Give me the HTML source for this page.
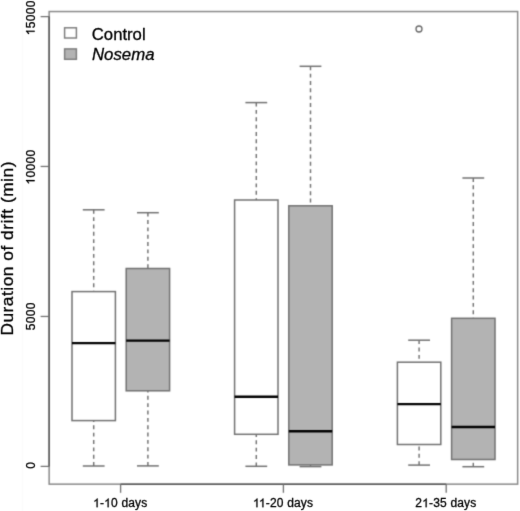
<!DOCTYPE html>
<html><head><meta charset="utf-8"><style>
html,body{margin:0;padding:0;background:#fff;width:520px;height:511px;overflow:hidden}
svg{display:block;will-change:transform}
text{font-family:"Liberation Sans",sans-serif;stroke:#000;stroke-width:0.3px}
.h{fill-opacity:0;stroke-opacity:0}
</style></head><body>
<svg width="520" height="511" viewBox="0 0 520 511">
<defs>
<filter id="soft" x="0" y="0" width="520" height="511" filterUnits="userSpaceOnUse" color-interpolation-filters="sRGB"><feConvolveMatrix order="3" kernelMatrix="0.02250 0.10500 0.02250 0.10500 0.49000 0.10500 0.02250 0.10500 0.02250" divisor="1" edgeMode="duplicate"/></filter>
<filter id="softt" x="0" y="0" width="520" height="511" filterUnits="userSpaceOnUse" color-interpolation-filters="sRGB"><feConvolveMatrix order="3" kernelMatrix="0.00640 0.06720 0.00640 0.06720 0.70560 0.06720 0.00640 0.06720 0.00640" divisor="1" edgeMode="duplicate"/></filter>
</defs>
<rect x="0" y="0" width="520" height="511" fill="#fff"/>
<g filter="url(#soft)">
<rect x="0" y="0" width="520" height="511" fill="#fff"/>
<line x1="22.5" y1="0" x2="22.5" y2="511" stroke="#fbfbfb" stroke-width="1"/>
<rect x="49.15" y="11.55" width="468.5" height="472.6" fill="none" stroke="#8a8a8a" stroke-width="1.5"/>
<line x1="49.15" y1="16.5" x2="49.15" y2="466.4" stroke="#585858" stroke-width="1.5"/>
<g stroke="#707070" stroke-width="1.25">
<line x1="40.6" y1="466.4" x2="49.2" y2="466.4"/>
<line x1="40.6" y1="316.45" x2="49.2" y2="316.45"/>
<line x1="40.6" y1="166.45" x2="49.2" y2="166.45"/>
<line x1="40.6" y1="16.6" x2="49.2" y2="16.6"/>
</g>
<line x1="120.6" y1="484.15" x2="446.2" y2="484.15" stroke="#585858" stroke-width="1.5"/>
<g stroke="#707070" stroke-width="1.3">
<line x1="120.6" y1="484.2" x2="120.6" y2="492.8"/>
<line x1="283.4" y1="484.2" x2="283.4" y2="492.8"/>
<line x1="446.2" y1="484.2" x2="446.2" y2="492.8"/>
</g>
<line x1="93.7" y1="209.8" x2="93.7" y2="291.6" stroke="#727272" stroke-width="1.45" stroke-dasharray="3.9 3.45"/>
<line x1="93.7" y1="466.0" x2="93.7" y2="420.6" stroke="#727272" stroke-width="1.45" stroke-dasharray="3.9 3.45"/>
<line x1="82.80" y1="209.8" x2="104.60" y2="209.8" stroke="#727272" stroke-width="1.5"/>
<line x1="82.80" y1="466.0" x2="104.60" y2="466.0" stroke="#727272" stroke-width="1.5"/>
<rect x="72.00" y="291.6" width="43.40" height="129.00" fill="#ffffff" stroke="#727272" stroke-width="1.5"/>
<line x1="72.00" y1="343.1" x2="115.40" y2="343.1" stroke="#000" stroke-width="2.4"/>
<line x1="147.9" y1="212.7" x2="147.9" y2="268.5" stroke="#727272" stroke-width="1.45" stroke-dasharray="3.9 3.45"/>
<line x1="147.9" y1="465.9" x2="147.9" y2="390.8" stroke="#727272" stroke-width="1.45" stroke-dasharray="3.9 3.45"/>
<line x1="137.00" y1="212.7" x2="158.80" y2="212.7" stroke="#727272" stroke-width="1.5"/>
<line x1="137.00" y1="465.9" x2="158.80" y2="465.9" stroke="#727272" stroke-width="1.5"/>
<rect x="126.20" y="268.5" width="43.40" height="122.30" fill="#b3b3b3" stroke="#727272" stroke-width="1.5"/>
<line x1="126.20" y1="340.6" x2="169.60" y2="340.6" stroke="#000" stroke-width="2.4"/>
<line x1="256.3" y1="102.6" x2="256.3" y2="200.0" stroke="#727272" stroke-width="1.45" stroke-dasharray="3.9 3.45"/>
<line x1="256.3" y1="466.3" x2="256.3" y2="434.3" stroke="#727272" stroke-width="1.45" stroke-dasharray="3.9 3.45"/>
<line x1="245.40" y1="102.6" x2="267.20" y2="102.6" stroke="#727272" stroke-width="1.5"/>
<line x1="245.40" y1="466.3" x2="267.20" y2="466.3" stroke="#727272" stroke-width="1.5"/>
<rect x="234.60" y="200.0" width="43.40" height="234.30" fill="#ffffff" stroke="#727272" stroke-width="1.5"/>
<line x1="234.60" y1="396.7" x2="278.00" y2="396.7" stroke="#000" stroke-width="2.4"/>
<line x1="310.5" y1="66.3" x2="310.5" y2="205.8" stroke="#727272" stroke-width="1.45" stroke-dasharray="3.9 3.45"/>
<line x1="310.5" y1="466.6" x2="310.5" y2="464.9" stroke="#727272" stroke-width="1.45" stroke-dasharray="3.9 3.45"/>
<line x1="299.60" y1="66.3" x2="321.40" y2="66.3" stroke="#727272" stroke-width="1.5"/>
<line x1="299.60" y1="466.6" x2="321.40" y2="466.6" stroke="#727272" stroke-width="1.5"/>
<rect x="288.80" y="205.8" width="43.40" height="259.10" fill="#b3b3b3" stroke="#727272" stroke-width="1.5"/>
<line x1="288.80" y1="431.2" x2="332.20" y2="431.2" stroke="#000" stroke-width="2.4"/>
<line x1="419.1" y1="340.2" x2="419.1" y2="362.2" stroke="#727272" stroke-width="1.45" stroke-dasharray="3.9 3.45"/>
<line x1="419.1" y1="465.1" x2="419.1" y2="444.5" stroke="#727272" stroke-width="1.45" stroke-dasharray="3.9 3.45"/>
<line x1="408.20" y1="340.2" x2="430.00" y2="340.2" stroke="#727272" stroke-width="1.5"/>
<line x1="408.20" y1="465.1" x2="430.00" y2="465.1" stroke="#727272" stroke-width="1.5"/>
<rect x="397.40" y="362.2" width="43.40" height="82.30" fill="#ffffff" stroke="#727272" stroke-width="1.5"/>
<line x1="397.40" y1="404.1" x2="440.80" y2="404.1" stroke="#000" stroke-width="2.4"/>
<line x1="473.3" y1="178.0" x2="473.3" y2="318.3" stroke="#727272" stroke-width="1.45" stroke-dasharray="3.9 3.45"/>
<line x1="473.3" y1="466.7" x2="473.3" y2="459.5" stroke="#727272" stroke-width="1.45" stroke-dasharray="3.9 3.45"/>
<line x1="462.40" y1="178.0" x2="484.20" y2="178.0" stroke="#727272" stroke-width="1.5"/>
<line x1="462.40" y1="466.7" x2="484.20" y2="466.7" stroke="#727272" stroke-width="1.5"/>
<rect x="451.60" y="318.3" width="43.40" height="141.20" fill="#b3b3b3" stroke="#727272" stroke-width="1.5"/>
<line x1="451.60" y1="427.0" x2="495.00" y2="427.0" stroke="#000" stroke-width="2.4"/>
<circle cx="419.0" cy="29.0" r="3.0" fill="none" stroke="#686868" stroke-width="1.3"/>
<rect x="64.6" y="27.8" width="11.8" height="10.2" fill="#fff" stroke="#7c7c7c" stroke-width="1.45"/>
<rect x="64.6" y="48.9" width="11.8" height="10.4" fill="#b3b3b3" stroke="#7c7c7c" stroke-width="1.45"/>
</g>
<g filter="url(#softt)">
<g font-size="12" fill="#000" text-anchor="middle" letter-spacing="0.35">
<g transform="translate(34.6,465.3) rotate(-90)"><text id="y0" x="0" y="0">0</text></g>
<g transform="translate(34.6,316.2) rotate(-90)"><text id="y5" x="0" y="0">5000</text></g>
<g transform="translate(34.6,167.0) rotate(-90)"><text id="y10" x="0" y="0"><tspan class="h">1</tspan>0000</text><g fill="#000" stroke="#000" stroke-width="51.2"><path transform="translate(-17.570,0.000) scale(0.005859,-0.005859)" d="M763 0H583V1147Q518 1085 412.5 1023Q307 961 223 930V1104Q374 1175 487 1276Q600 1377 647 1472H763Z"/></g></g>
<g transform="translate(34.6,17.7) rotate(-90)"><text id="y15" x="0" y="0"><tspan class="h">1</tspan>5000</text><g fill="#000" stroke="#000" stroke-width="51.2"><path transform="translate(-17.570,0.000) scale(0.005859,-0.005859)" d="M763 0H583V1147Q518 1085 412.5 1023Q307 961 223 930V1104Q374 1175 487 1276Q600 1377 647 1472H763Z"/></g></g>
</g>
<g font-size="12" fill="#000" text-anchor="middle" letter-spacing="0.17">
<g><text id="x1" x="120.3" y="507.2"><tspan class="h">1</tspan>-<tspan class="h">1</tspan>0 days</text><g fill="#000" stroke="#000" stroke-width="51.2"><path transform="translate(93.159,507.200) scale(0.005859,-0.005859)" d="M763 0H583V1147Q518 1085 412.5 1023Q307 961 223 930V1104Q374 1175 487 1276Q600 1377 647 1472H763Z"/><path transform="translate(104.191,507.200) scale(0.005859,-0.005859)" d="M763 0H583V1147Q518 1085 412.5 1023Q307 961 223 930V1104Q374 1175 487 1276Q600 1377 647 1472H763Z"/></g></g>
<g><text id="x2" x="283.1" y="507.2"><tspan class="h">1</tspan><tspan class="h">1</tspan>-20 days</text><g fill="#000" stroke="#000" stroke-width="51.2"><path transform="translate(252.991,507.200) scale(0.005859,-0.005859)" d="M763 0H583V1147Q518 1085 412.5 1023Q307 961 223 930V1104Q374 1175 487 1276Q600 1377 647 1472H763Z"/><path transform="translate(258.959,507.200) scale(0.005859,-0.005859)" d="M763 0H583V1147Q518 1085 412.5 1023Q307 961 223 930V1104Q374 1175 487 1276Q600 1377 647 1472H763Z"/></g></g>
<g><text id="x3" x="445.9" y="507.2">2<tspan class="h">1</tspan>-35 days</text><g fill="#000" stroke="#000" stroke-width="51.2"><path transform="translate(422.205,507.200) scale(0.005859,-0.005859)" d="M763 0H583V1147Q518 1085 412.5 1023Q307 961 223 930V1104Q374 1175 487 1276Q600 1377 647 1472H763Z"/></g></g>
</g>
<text transform="translate(13.3,248.6) rotate(-90)" font-size="17.3" text-anchor="middle" fill="#000" textLength="174" lengthAdjust="spacing">Duration of drift (min)</text>
<text x="91.8" y="39.6" font-size="16.7" fill="#000">Control</text>
<text x="92" y="60.4" font-size="16.8" font-style="italic" fill="#000">Nosema</text>
</g>
</svg>
</body></html>
